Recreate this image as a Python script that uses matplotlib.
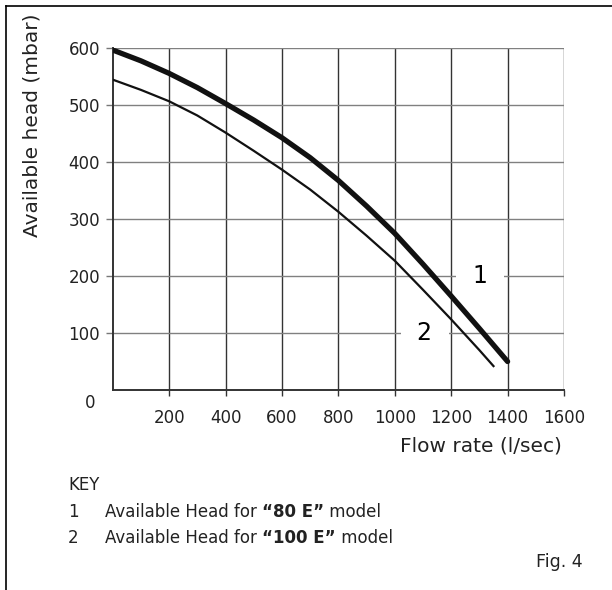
import matplotlib.pyplot as plt
from matplotlib.lines import Line2D

# data
flow_80e = [0, 100, 200, 300, 400, 500, 600, 700, 800, 900, 1000, 1100, 1200, 1300, 1400]
head_80e = [597, 578, 556, 531, 503, 474, 443, 408, 368, 323, 275, 221, 165, 108, 50]
flow_100e = [0, 100, 200, 300, 400, 500, 600, 700, 800, 900, 1000, 1100, 1200, 1300, 1350]
head_100e = [545, 527, 507, 482, 452, 420, 387, 352, 313, 271, 227, 176, 124, 70, 42]

x_ticks = [200, 400, 600, 800, 1000, 1200, 1400, 1600]
y_ticks = [100, 200, 300, 400, 500, 600]

plt.rcParams['font.family'] = ['DejaVu Sans']

W, H = 612, 590
fig = plt.figure(figsize=(W / 100, H / 100), dpi=100)


def fx(px):
    return px / W


def fy(py):
    return 1 - py / H


ax = fig.add_axes([fx(112.7), fy(390), fx(564 - 112.7), (390 - 48.3) / H])
ax.set_xlim(0, 1600)
ax.set_ylim(0, 600)
ax.set_xticks(x_ticks)
ax.set_yticks(y_ticks)
ax.set_xticklabels([str(t) for t in x_ticks], fontsize=12, color='#222222')
ax.set_yticklabels([str(t) for t in y_ticks], fontsize=12, color='#222222')
ax.tick_params(axis='x', length=4, width=1, color='#333333', pad=10)
ax.tick_params(axis='y', length=5, width=1, color='#777777', pad=4)
ax.grid(axis='x', color='#333333', lw=1)
ax.grid(axis='y', color='#808080', lw=1)
ax.set_axisbelow(True)
for s in ['top', 'right']:
    ax.spines[s].set_visible(False)
for s in ['left', 'bottom']:
    ax.spines[s].set_color('#333333')
    ax.spines[s].set_linewidth(1.4)

ax.plot(flow_80e, head_80e, color='#111111', lw=3.8, solid_capstyle='round', zorder=4)
ax.plot(flow_100e, head_100e, color='#111111', lw=1.6, zorder=4)

# curve numbers sitting on the grid lines
box = dict(facecolor='white', edgecolor='none', boxstyle='square,pad=0.05')
ax.text(1302, 200, '  1  ', fontsize=17, ha='center', va='center', bbox=box, zorder=3)
ax.text(1107, 100, '  2  ', fontsize=17, ha='center', va='center', bbox=box, zorder=3)

fig.text(fx(90), fy(403.5), '0', fontsize=12, ha='center', va='center', color='#222222')
fig.text(fx(32.5), fy(125), 'Available head (mbar)', fontsize=14.5, rotation=90,
         ha='center', va='center', color='#222222')
fig.text(fx(562), fy(452), 'Flow rate (l/sec)', fontsize=14.5, ha='right', va='baseline',
         color='#222222')

# key
fig.text(fx(68), fy(490), 'KEY', fontsize=12, va='baseline', color='#222222')
renderer = fig.canvas.get_renderer()


def key_line(num, model, py):
    fig.text(fx(68), fy(py), num, fontsize=12, va='baseline', color='#222222')
    x = fx(105)
    for piece, weight in [('Available Head for ', 'normal'), ('\u201c' + model + '\u201d', 'bold'),
                          (' model', 'normal')]:
        t = fig.text(x, fy(py), piece, fontsize=12, va='baseline', weight=weight, color='#222222')
        bb = t.get_window_extent(renderer)
        x += bb.width / W


key_line('1', '80 E', 517)
key_line('2', '100 E', 543)

fig.text(fx(583), fy(567), 'Fig. 4', fontsize=12.5, ha='right', va='baseline', color='#222222')

# page frame (top and left edges)
fig.add_artist(Line2D([fx(5.5), 1.0], [fy(5.5), fy(5.5)], color='black', lw=1.2))
fig.add_artist(Line2D([fx(5.5), fx(5.5)], [0, fy(5.5)], color='black', lw=1.2))

fig.savefig('out.png', dpi=100)
